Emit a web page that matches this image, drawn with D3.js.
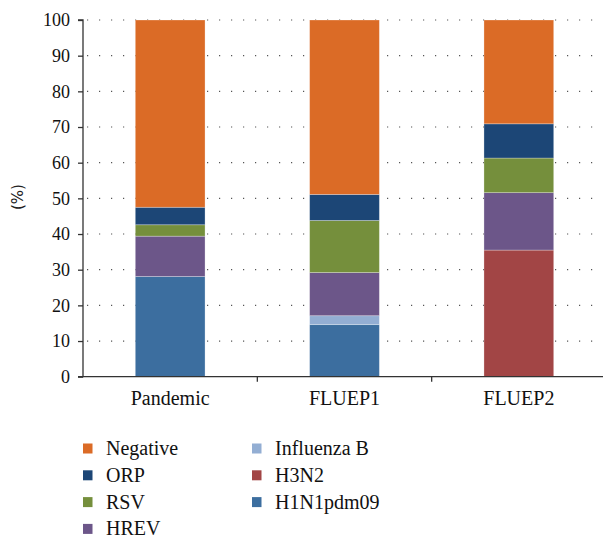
<!DOCTYPE html>
<html>
<head>
<meta charset="utf-8">
<script src="https://cdn.jsdelivr.net/npm/d3@7"></script>
<style>
  body { margin: 0; background: #fff; }
  svg { display: block; }
  .tick text { font-family: "Liberation Serif", serif; fill: #111; }
</style>
</head>
<body>
<div id="chart"></div>
<script>
// ---------- DATA ----------
const GROUPS = ["Pandemic", "FLUEP1", "FLUEP2"];

// stacking order, bottom to top
const SERIES = ["H1N1pdm09", "H3N2", "Influenza B", "HREV", "RSV", "ORP", "Negative"];

const H1N1 = [28.1, 14.6, 0];
const H3N2 = [0, 0, 35.5];
const INFB = [0, 2.5, 0];
const HREV = [11.3, 12.1, 16.1];
const RSV = [3.2, 14.6, 9.7];
const ORP = [4.9, 7.3, 9.6];
const NEGATIVE = [52.5, 48.9, 29.1];

const Y_TICKS = [0, 10, 20, 30, 40, 50, 60, 70, 80, 90, 100];

// legend is laid out in two columns
const LEGEND_COLS = [
  ["Negative", "ORP", "RSV", "HREV"],
  ["Influenza B", "H3N2", "H1N1pdm09"]
];

const COLORS = {
  "Negative": "#db6b26",
  "ORP": "#1c4676",
  "RSV": "#758f3c",
  "HREV": "#6c5689",
  "Influenza B": "#93aed3",
  "H3N2": "#a24545",
  "H1N1pdm09": "#3c6e9f"
};

// ---------- SCAFFOLD ----------
const width = 603, height = 539;
const plotL = 83, plotR = 606, plotT = 20, plotB = 376.7;

const values = {
  "H1N1pdm09": H1N1, "H3N2": H3N2, "Influenza B": INFB,
  "HREV": HREV, "RSV": RSV, "ORP": ORP, "Negative": NEGATIVE
};
const rows = GROUPS.map((g, i) => {
  const row = { group: g };
  SERIES.forEach(s => row[s] = values[s][i]);
  return row;
});

const svg = d3.select("#chart").append("svg")
  .attr("width", width)
  .attr("height", height);

const x = d3.scaleBand().domain(GROUPS).range([plotL, plotR]);
const y = d3.scaleLinear().domain([0, 100]).range([plotB, plotT]);

// dotted grid
svg.append("g")
  .selectAll("line")
  .data(Y_TICKS.filter(d => d > 0))
  .join("line")
  .attr("x1", plotL + 4)
  .attr("x2", width)
  .attr("y1", d => y(d))
  .attr("y2", d => y(d))
  .attr("stroke", "#555")
  .attr("stroke-width", 1.2)
  .attr("stroke-dasharray", "1.2,10.8");

// stacked bars
const stack = d3.stack().keys(SERIES)(rows);
const barW = x.bandwidth() * 0.4;

svg.append("g")
  .selectAll("g")
  .data(stack)
  .join("g")
  .attr("fill", d => COLORS[d.key])
  .selectAll("rect")
  .data(d => d.filter(p => p[1] - p[0] > 0))
  .join("rect")
  .attr("x", d => x(d.data.group) + (x.bandwidth() - barW) / 2)
  .attr("width", barW)
  .attr("y", d => y(d[1]))
  .attr("height", d => y(d[0]) - y(d[1]))
  .attr("stroke", "rgba(255,255,255,0.35)")
  .attr("stroke-width", 0.8);

// y axis
const yAxis = svg.append("g")
  .attr("transform", `translate(${plotL},0)`)
  .call(d3.axisLeft(y).tickValues(Y_TICKS).tickSize(5).tickPadding(8));
yAxis.selectAll("text").style("font-size", "18px");
yAxis.selectAll("line, path").attr("stroke", "#333").attr("stroke-width", 1.3);
yAxis.select(".domain").attr("d", `M-5,${plotT}H0V${plotB}H-5`);

// x axis: ticks sit on the band boundaries
const xAxis = svg.append("g")
  .attr("transform", `translate(0,${plotB})`);
xAxis.append("line")
  .attr("x1", plotL).attr("x2", width)
  .attr("stroke", "#333").attr("stroke-width", 1.3);
xAxis.selectAll(".sep")
  .data(GROUPS.slice(1))
  .join("line")
  .attr("class", "sep")
  .attr("x1", d => x(d)).attr("x2", d => x(d))
  .attr("y1", 0).attr("y2", 5)
  .attr("stroke", "#333").attr("stroke-width", 1.3);
xAxis.selectAll(".cat")
  .data(GROUPS)
  .join("text")
  .attr("class", "cat")
  .attr("x", d => x(d) + x.bandwidth() / 2)
  .attr("y", 28)
  .attr("text-anchor", "middle")
  .style("font-family", "Liberation Serif, serif")
  .style("font-size", "20px")
  .attr("fill", "#111")
  .text(d => d);

// y label
svg.append("text")
  .attr("transform", "translate(23,197) rotate(-90)")
  .attr("text-anchor", "middle")
  .style("font-family", "DejaVu Sans, sans-serif")
  .style("font-size", "15px")
  .attr("fill", "#222")
  .text("(%)");

// ---------- LEGEND ----------
const colX = [83, 252];
const rowY0 = 448.5, rowStep = 26.8;
LEGEND_COLS.forEach((col, ci) => {
  const lg = svg.append("g").attr("transform", `translate(${colX[ci]},0)`);
  const item = lg.selectAll("g")
    .data(col)
    .join("g")
    .attr("transform", (d, i) => `translate(0,${rowY0 + i * rowStep})`);
  item.append("rect")
    .attr("x", 0).attr("y", -5)
    .attr("width", 9.5).attr("height", 10)
    .attr("fill", d => COLORS[d]);
  item.append("text")
    .attr("x", 23)
    .attr("y", 6.5)
    .style("font-family", "Liberation Serif, serif")
    .style("font-size", "20px")
    .attr("fill", "#111")
    .text(d => d);
});
</script>
</body>
</html>
